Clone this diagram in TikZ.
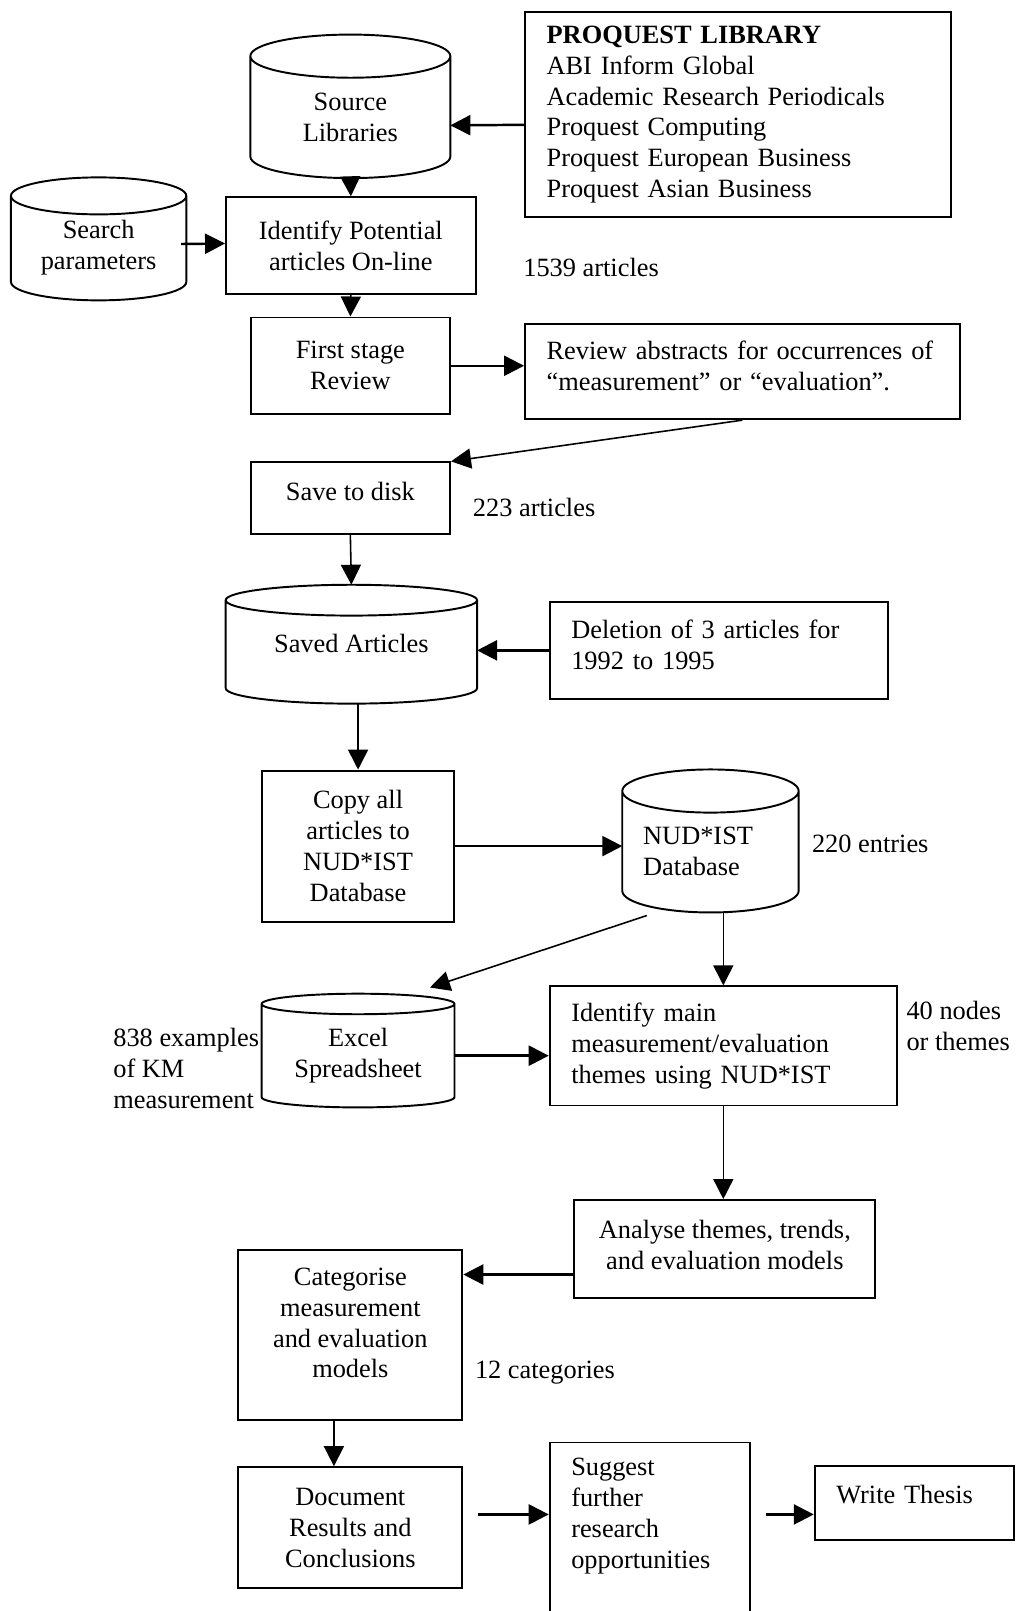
\documentclass[tikz,border=0pt]{standalone}
\usepackage{fontspec}
\setmainfont{Liberation Serif}
\usetikzlibrary{calc,arrows.meta}

\newcommand{\pxl}{0.020545cm}
% extra room under the last line / over the first line of a node
\newcommand{\lift}[1]{\rule[-#1]{0pt}{0pt}}
\newcommand{\drop}[1]{\rule{0pt}{#1}}
% drum outline round a node: name, cap half-height
\newcommand{\drum}[2]{%
  \draw[line width=1.1pt] let \p1=(#1.north west), \p2=(#1.south east),
      \n1={(\x2-\x1)/2} in
    (\x1,\y2+#2) -- (\x1,\y1)
    (\x1,\y2+#2) arc[start angle=180, end angle=360, x radius=\n1, y radius=#2] -- (\x2,\y1)
    (#1.north) ellipse[x radius=\n1, y radius=#2];
}

\begin{document}
\begin{tikzpicture}[x=\pxl, y=-\pxl,
    font=\fontsize{15}{17.6}\selectfont,
    box/.style={draw, line width=1.1pt, align=center},
    lbox/.style={box, align=left, inner xsep=21*\pxl},
    drum/.style={align=center},
    note/.style={inner sep=0pt, anchor=west, align=left},
    arr/.style={line width=1.4pt, -{Triangle[length=0.4cm, width=0.4cm]}},
    tarr/.style={arr, line width=0.9pt}]
  \useasboundingbox (0,0) rectangle (990,1568);

  % Top: library and search
  \node[lbox, minimum width=415*\pxl, minimum height=199*\pxl, text width=373*\pxl] (pq) at (718.5,111.5)
    {\textbf{PROQUEST LIBRARY}\\ABI Inform Global\\Academic Research Periodicals\\Proquest Computing\\Proquest European Business\\Proquest Asian Business};
  \node[drum, minimum width=194*\pxl, minimum height=118*\pxl] (src) at (341,114) {Source\\Libraries};
  \drum{src}{21*\pxl}
  \node[drum, minimum width=170*\pxl, minimum height=101*\pxl] (sea) at (96,241.5) {Search\\parameters};
  \drum{sea}{18*\pxl}

  \node[box, minimum width=243*\pxl, minimum height=94*\pxl] (idp) at (341.5,239) {Identify Potential\\articles On-line};
  \node[note] (n1539) at (509,260) {1539 articles};
  \node[box, minimum width=194*\pxl, minimum height=94*\pxl] (fsr) at (341,356) {First stage\\Review};
  \node[lbox, minimum width=423*\pxl, minimum height=93*\pxl, text width=381*\pxl] (rev) at (722.5,361.5)
    {\mbox{Review abstracts for occurrences of}\\“measurement” or “evaluation”.\lift{6pt}};

  % Saving the articles
  \node[box, minimum width=194*\pxl, minimum height=70*\pxl] (disk) at (341,485) {Save to disk\lift{8pt}};
  \node[note] (n223) at (460,494) {223 articles};
  \node[drum, minimum width=244*\pxl, minimum height=100*\pxl] (sav) at (342,634.5) {Saved Articles\lift{10pt}};
  \drum{sav}{15*\pxl}
  \node[lbox, minimum width=329*\pxl, minimum height=94*\pxl, text width=287*\pxl] (del) at (699.5,633)
    {Deletion of 3 articles for\\1992 to 1995\lift{6.5pt}};

  % NUD*IST part
  \node[box, minimum width=187*\pxl, minimum height=147*\pxl] (cpy) at (348.5,823.5) {Copy all\\articles to\\NUD*IST\\Database};
  \node[drum, align=left, minimum width=171*\pxl, minimum height=117.5*\pxl, text width=131*\pxl] (nud) at (691.5,829) {NUD*IST\\Database};
  \drum{nud}{21*\pxl}
  \node[note] (n220) at (790,821) {220 entries};
  \node[drum, minimum width=187*\pxl, minimum height=100*\pxl] (xl) at (348.5,1027.5) {Excel\\Spreadsheet};
  \drum{xl}{10*\pxl}
  \node[note] (n838) at (110,1040) {838 examples\\of KM\\measurement};
  \node[lbox, minimum width=338*\pxl, minimum height=116*\pxl, text width=296*\pxl] (idm) at (704,1018)
    {Identify main\\measurement/evaluation\\themes using NUD*IST};
  \node[note] (n40) at (882,999) {40 nodes\\or themes};

  % Analysis and write up
  \node[box, minimum width=293*\pxl, minimum height=95*\pxl] (ana) at (705.5,1215.5) {Analyse themes, trends,\\and evaluation models\lift{4.5pt}};
  \node[box, minimum width=218*\pxl, minimum height=165*\pxl] (cat) at (341,1299.5) {Categorise\\measurement\\and evaluation\\models\lift{14pt}};
  \node[note] (n12) at (462,1336) {12 categories};
  \node[box, minimum width=218*\pxl, minimum height=118*\pxl] (doc) at (341,1487) {Document\\Results and\\Conclusions};
  \node[lbox, minimum width=195*\pxl, minimum height=171*\pxl, text width=153*\pxl] (sug) at (632.5,1489.5)
    {Suggest\\further\\research\\opportunities\lift{19pt}};
  \node[lbox, minimum width=194*\pxl, minimum height=72*\pxl, text width=152*\pxl] (wt) at (890,1463) {Write Thesis\lift{10.5pt}};

  % Arrows
  \draw[arr] ($(pq.west)+(0,10)$) -- ($(src.east)+(0,8)$);
  \draw[tarr] (src.south) -- (idp.north);
  \draw[arr] ($(sea.east)+(-5,-4)$) -- ($(idp.west)+(0,-2)$);
  \draw[tarr] (idp.south) -- (fsr.north);
  \draw[arr] (fsr.east) -- (fsr.east -| rev.west);
  \draw[tarr] (rev.south) -- (disk.north east);
  \draw[tarr] (disk.south) -- ($(sav.north)+(0,-15)$);
  \draw[arr] (del.west) -- (del.west -| sav.east);
  \draw[tarr] (sav.south -| cpy.north) -- (cpy.north);
  \draw[arr] (cpy.east) -- (cpy.east -| nud.west);
  \draw[tarr] ($(nud.south)+(-62,3)$) -- ($(xl.north)+(70,-16)$);
  \draw[tarr] (idm.north |- nud.south) -- (idm.north);
  \draw[arr] (xl.east) -- (xl.east -| idm.west);
  \draw[tarr] (idm.south) -- (idm.south |- ana.north);
  \draw[arr] ($(ana.west)+(0,25)$) coordinate (a1) -- (a1 -| cat.east);
  \draw[tarr] ($(cat.south)+(-16,0)$) -- ($(doc.north)+(-16,0)$);
  \draw[arr] ($(doc.east)+(14,-13)$) coordinate (d1) -- (d1 -| sug.west);
  \draw[arr] ($(sug.east)+(15,-15.5)$) coordinate (s1) -- (s1 -| wt.west);
\end{tikzpicture}
\end{document}
